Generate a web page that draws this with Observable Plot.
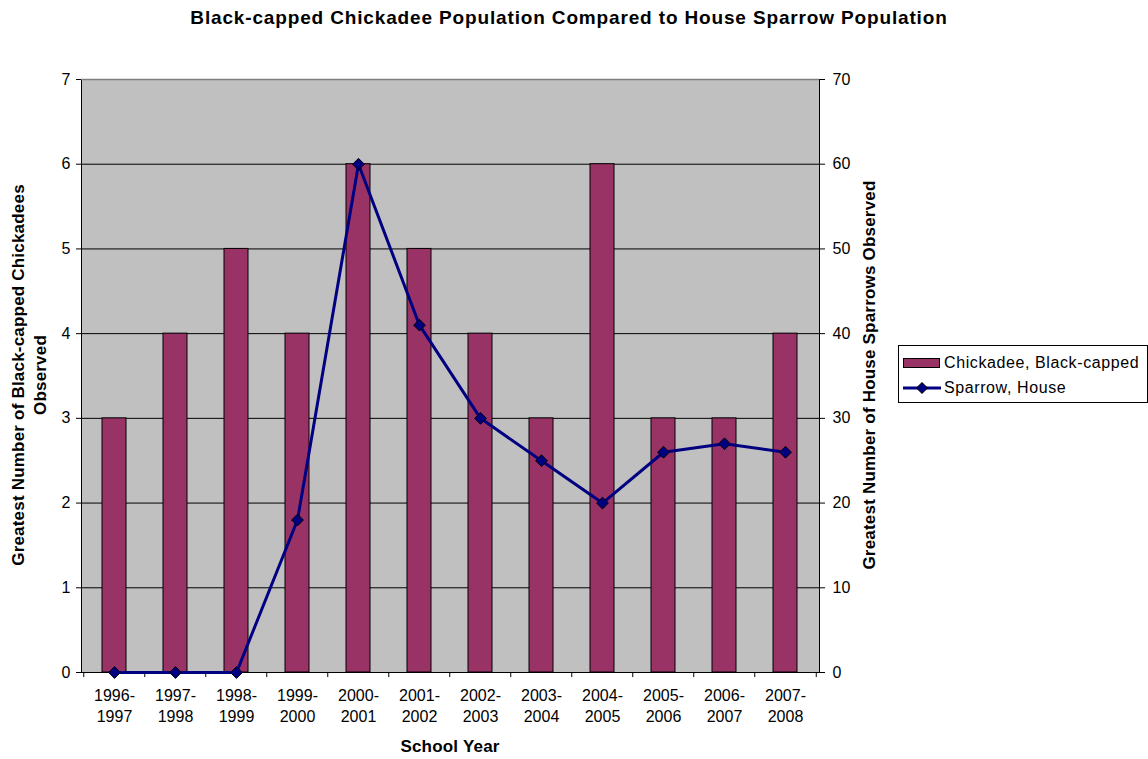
<!DOCTYPE html>
<html>
<head>
<meta charset="utf-8">
<script src="https://cdn.jsdelivr.net/npm/d3@7"></script>
<script src="https://cdn.jsdelivr.net/npm/@observablehq/plot@0.6"></script>
<style>
  html, body { margin: 0; padding: 0; background: white; }
  #wrap { position: relative; width: 1148px; height: 759px; font-family: "Liberation Sans", Arial, sans-serif; color: black; }
  #wrap svg.plot { position: absolute; left: 0; top: 0; }
  .title { position: absolute; left: 0; width: 1138px; top: 7px; text-align: center; font-weight: bold; font-size: 19px; letter-spacing: 0.85px; line-height: 22px; }
  .xlabel { position: absolute; left: 350px; width: 200px; top: 737px; text-align: center; font-weight: bold; font-size: 17px; letter-spacing: 0.2px; line-height: 20px; }
  .ylabel { position: absolute; font-weight: bold; font-size: 17px; letter-spacing: 0.2px; text-align: center; white-space: nowrap; transform: translate(-50%, -50%) rotate(-90deg); line-height: 22px; }
  .legend { position: absolute; left: 898px; top: 345px; width: 250px; height: 58px; border: 1px solid #000; box-sizing: border-box; font-size: 16px; letter-spacing: 0.6px; }
  .legend .item { position: absolute; left: 4px; height: 20px; display: flex; align-items: center; }
  .legend svg { display: block; margin-right: 3px; }
</style>
</head>
<body>
<div id="wrap"></div>
<script>
const years = ["1996-1997","1997-1998","1998-1999","1999-2000","2000-2001","2001-2002","2002-2003","2003-2004","2004-2005","2005-2006","2006-2007","2007-2008"];
const chickadees = [3,4,5,4,6,5,4,3,6,3,3,4];
const sparrows = [0,0,0,18,60,41,30,25,20,26,27,26];
const leftTicks = [0,1,2,3,4,5,6,7];
const rightTicks = [0,10,20,30,40,50,60,70];
const titleText = "Black-capped Chickadee Population Compared to House Sparrow Population";
const xTitle = "School Year";
const yLeftTitle = ["Greatest Number of Black-capped Chickadees", "Observed"];
const yRightTitle = "Greatest Number of House Sparrows Observed";
const seriesNames = ["Chickadee, Black-capped", "Sparrow, House"];

const barColor = "#993366";
const lineColor = "#000080";
const ratio = 10; // right axis = left axis * 10

const data = years.map((year, i) => ({year, chickadee: chickadees[i], sparrow: sparrows[i]}));

const W = 1148, H = 759;
const mL = 81, mR = 329, mT = 79, mB = 87;
const step = (W - mL - mR) / years.length;

const plot = Plot.plot({
  width: W,
  height: H,
  marginLeft: mL,
  marginRight: mR,
  marginTop: mT,
  marginBottom: mB,
  style: {fontFamily: "'Liberation Sans', Arial, sans-serif", fontSize: "16px", background: "transparent", overflow: "visible"},
  x: {type: "band", domain: years, paddingInner: 0.6, paddingOuter: 0.3},
  y: {domain: [0, 7]},
  marks: [
    Plot.frame({fill: "#c0c0c0", stroke: "none"}),
    Plot.ruleY(leftTicks.slice(0, -1), {stroke: "black", strokeWidth: 1}),
    Plot.barY(data, {x: "year", y: "chickadee", fill: barColor, stroke: "black", strokeWidth: 1}),
    Plot.frame({stroke: "black", fill: "none", strokeWidth: 1}),
    Plot.ruleY([7], {stroke: "#808080", strokeWidth: 1.5}),
    // category boundary ticks on x axis
    Plot.ruleX(years, {x: d => d, y1: 0, y2: -0.06, dx: -step / 2, stroke: "black"}),
    Plot.ruleX([years[years.length - 1]], {x: d => d, y1: 0, y2: -0.06, dx: step / 2, stroke: "black"}),
    Plot.line(data, {x: "year", y: d => d.sparrow / ratio, stroke: lineColor, strokeWidth: 3}),
    Plot.dot(data, {x: "year", y: d => d.sparrow / ratio, symbol: "diamond2", r: 5.3, fill: lineColor, stroke: "black", strokeWidth: 1}),
    Plot.axisY({anchor: "left", ticks: leftTicks, tickSize: 5, tickPadding: 6, label: null, fontSize: 16, tickFormat: d => String(d)}),
    Plot.axisY({anchor: "right", ticks: leftTicks, tickSize: 5, tickPadding: 8, label: null, fontSize: 16, tickFormat: d => String(rightTicks[leftTicks.indexOf(d)])}),
    Plot.axisX({anchor: "bottom", tickSize: 0, tickPadding: 14, label: null, fontSize: 16, lineHeight: 1.3, tickFormat: d => d.replace("-", "-\n")})
  ]
});
plot.classList.add("plot");

const wrap = document.getElementById("wrap");
wrap.appendChild(plot);

function addDiv(cls, html, styles) {
  const d = document.createElement("div");
  d.className = cls;
  d.innerHTML = html;
  Object.assign(d.style, styles || {});
  wrap.appendChild(d);
  return d;
}
addDiv("title", titleText);
addDiv("xlabel", xTitle);
addDiv("ylabel", yLeftTitle.join("<br>"), {left: "30px", top: "375px"});
addDiv("ylabel", yRightTitle, {left: "870px", top: "375px"});

const legend = addDiv("legend", "");
legend.innerHTML =
  `<div class="item" style="top:7px"><svg width="38" height="12"><rect x="0.5" y="1.5" width="36" height="9" fill="${barColor}" stroke="black"/></svg><span>${seriesNames[0]}</span></div>` +
  `<div class="item" style="top:32px"><svg width="38" height="12"><line x1="0" y1="6" x2="38" y2="6" stroke="${lineColor}" stroke-width="3"/><path d="M19,0.5L24.5,6L19,11.5L13.5,6Z" fill="${lineColor}" stroke="black"/></svg><span>${seriesNames[1]}</span></div>`;
</script>
</body>
</html>
